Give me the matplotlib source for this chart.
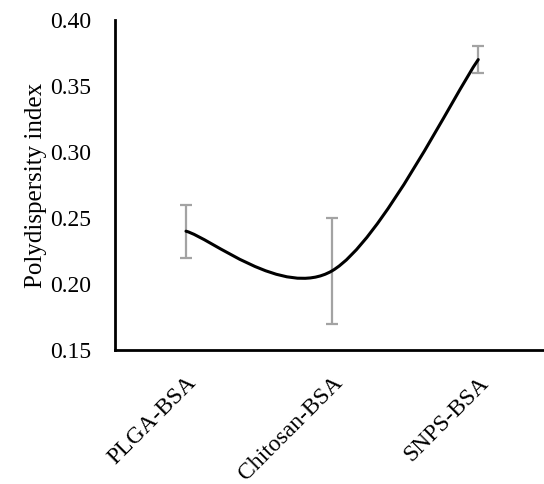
import matplotlib
matplotlib.use("Agg")
import matplotlib.pyplot as plt
from matplotlib.path import Path
from matplotlib.patches import PathPatch
import numpy as np

categories = ["PLGA-BSA", "Chitosan-BSA", "SNPS-BSA"]
pdi = [0.24, 0.21, 0.37]
pdi_err = [0.02, 0.04, 0.01]
yticks = [0.15, 0.20, 0.25, 0.30, 0.35, 0.40]

plt.rcParams['font.family'] = ['Liberation Serif', 'DejaVu Serif']

fig = plt.figure(figsize=(5.44, 4.84), dpi=100)
ax = fig.add_axes([115/544, 1 - 350/484, (544-115)/544, 330/484])

x = np.arange(len(categories), dtype=float)
y = np.array(pdi, dtype=float)

# Smoothed line (Catmull-Rom style Bezier, like spreadsheet "smoothed line")
pts = np.column_stack([x, y])
ext = np.vstack([pts[0], pts, pts[-1]])
verts = [tuple(pts[0])]
codes = [Path.MOVETO]
for i in range(len(pts) - 1):
    p0, p1, p2, p3 = ext[i], ext[i+1], ext[i+2], ext[i+3]
    c1 = p1 + (p2 - p0) / 6.0
    c2 = p2 - (p3 - p1) / 6.0
    verts += [tuple(c1), tuple(c2), tuple(p2)]
    codes += [Path.CURVE4] * 3
ax.add_patch(PathPatch(Path(verts, codes), fill=False, edgecolor='black',
                       lw=2.2, zorder=3, capstyle='round'))

ax.errorbar(x, y, yerr=pdi_err, fmt='none', ecolor='#a3a3a3', elinewidth=1.6,
            capsize=4.5, capthick=1.6, zorder=2)

ax.set_xlim(-0.486, 2.45)
ax.set_ylim(0.15, 0.40)
ax.set_yticks(yticks)
ax.set_yticklabels([f"{v:.2f}" for v in yticks], fontsize=17)
ax.set_xticks(x)
ax.set_xticklabels(categories, rotation=45, ha='right', va='top',
                   rotation_mode='anchor', fontsize=17)
ax.tick_params(axis='y', length=0, pad=17)
ax.tick_params(axis='x', length=0, pad=16)
ax.set_ylabel("Polydispersity index", fontsize=18, labelpad=2)

for s in ['top', 'right']:
    ax.spines[s].set_visible(False)
for s in ['left', 'bottom']:
    ax.spines[s].set_linewidth(2.0)
    ax.spines[s].set_color('black')

fig.savefig("out.png", dpi=100)
